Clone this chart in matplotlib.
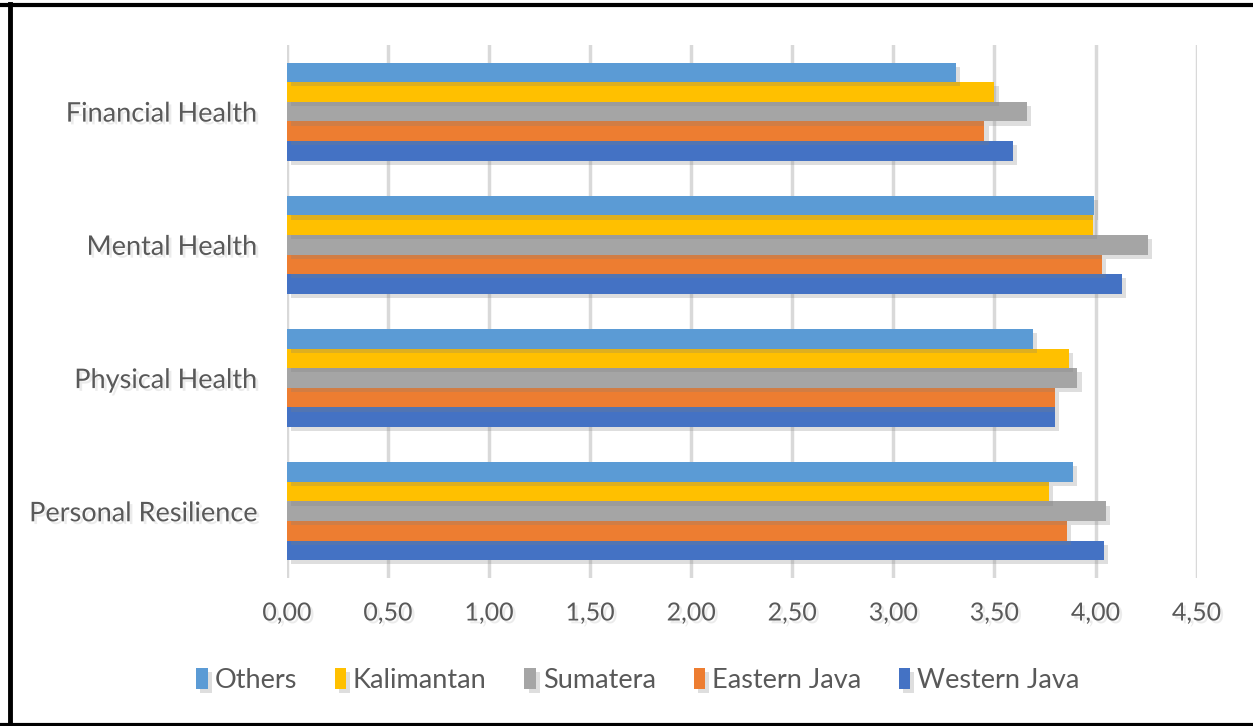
import matplotlib.pyplot as plt
import matplotlib.patheffects as pe
from matplotlib.ticker import FuncFormatter, MultipleLocator
from matplotlib.lines import Line2D
import numpy as np

# data
categories = ['Personal Resilience', 'Physical Health', 'Mental Health', 'Financial Health']
series_names = ['Western Java', 'Eastern Java', 'Sumatera', 'Kalimantan', 'Others']
western_java = [4.04, 3.80, 4.13, 3.59]
eastern_java = [3.86, 3.80, 4.03, 3.45]
sumatera = [4.05, 3.91, 4.26, 3.66]
kalimantan = [3.77, 3.87, 3.985, 3.50]
others = [3.89, 3.69, 3.99, 3.31]

colors = ['#4472C4', '#ED7D31', '#A5A5A5', '#FFC000', '#5B9BD5']
text_color = '#595959'

plt.rcParams['font.family'] = ['Lato', 'DejaVu Sans']

fig = plt.figure(figsize=(12.53, 7.26), dpi=100)
ax = fig.add_axes([0.229, 0.204, 0.726, 0.734])

shadow = [pe.SimplePatchShadow(offset=(3, -3), alpha=0.25, shadow_rgbFace='#7f7f7f'), pe.Normal()]
text_shadow = [pe.withSimplePatchShadow(offset=(2, -2), alpha=0.15, shadow_rgbFace='#7f7f7f')]

index = np.arange(len(categories))
bar_h = 0.147
all_series = [western_java, eastern_java, sumatera, kalimantan, others]
for k, vals in enumerate(all_series):
    bars = ax.barh(index - 2 * bar_h + k * bar_h, vals, bar_h, color=colors[k],
                   label=series_names[k], zorder=3)
    for b in bars:
        b.set_path_effects(shadow)

ax.set_xlim(0, 4.5)
ax.set_ylim(-0.5, 3.5)
ax.xaxis.set_major_locator(MultipleLocator(0.5))
ax.xaxis.set_major_formatter(FuncFormatter(lambda v, p: ('%.2f' % v).replace('.', ',')))
ax.grid(axis='x', color='#D9D9D9', linewidth=2.5, zorder=0)
ax.set_axisbelow(True)
for s in ax.spines.values():
    s.set_visible(False)
ax.tick_params(length=0, labelcolor=text_color)
ax.tick_params(axis='x', pad=17, labelsize=18)
ax.tick_params(axis='y', pad=21, labelsize=19.5)
ax.set_yticks(index)
ax.set_yticklabels(categories)
for lab in ax.get_xticklabels() + ax.get_yticklabels():
    lab.set_path_effects(text_shadow)

# legend in reverse order like Excel
handles, labels = ax.get_legend_handles_labels()
leg = fig.legend(handles[::-1], labels[::-1], loc='center', bbox_to_anchor=(0.509, 0.063),
                 ncol=5, frameon=False, fontsize=19.5, handlelength=0.42, handleheight=0.85,
                 handletextpad=0.25, columnspacing=1.4)
for t in leg.get_texts():
    t.set_color(text_color)

# black frame round the picture (top, left, bottom)
fig.add_artist(Line2D([0, 1], [0.993, 0.993], color='black', linewidth=3, transform=fig.transFigure))
fig.add_artist(Line2D([0.008, 0.008], [0, 0.995], color='black', linewidth=3.5, transform=fig.transFigure))
fig.add_artist(Line2D([0, 1], [0.002, 0.002], color='black', linewidth=3, transform=fig.transFigure))

plt.savefig('out.png', dpi=100)
